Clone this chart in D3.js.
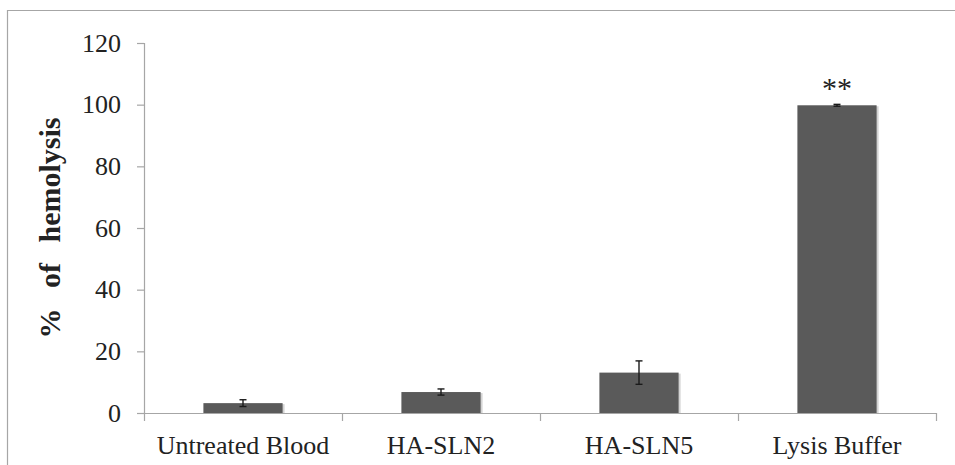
<!DOCTYPE html>
<html>
<head>
<meta charset="utf-8">
<script src="https://cdn.jsdelivr.net/npm/d3@7"></script>
<style>
  html, body { margin: 0; padding: 0; background: #fff; }
  svg { display: block; }
  text { font-family: "Liberation Serif", "Times New Roman", serif; fill: #222; }
</style>
</head>
<body>
<svg id="chart" width="955" height="465"></svg>
<script>
// Hemolysis assay: mean % lysis with standard deviation per sample
const categories = ["Untreated Blood", "HA-SLN2", "HA-SLN5", "Lysis Buffer"];
const values = [3.2, 6.8, 13.1, 99.8];
const errors = [1.1, 1.0, 3.8, 0.3];
const marks = ["", "", "", "**"];
const yTicks = [0, 20, 40, 60, 80, 100, 120];

const svg = d3.select("#chart");
const margin = { left: 144, right: 19, top: 43, bottom: 52 };
const W = 955, H = 465;

// outer frame
svg.append("path")
  .attr("d", `M7.5,${H + 5} V10.5 H${W + 5}`)
  .attr("fill", "none")
  .attr("stroke", "#a6a6a6")
  .attr("stroke-width", 1.2);

const x = d3.scaleBand()
  .domain(categories)
  .range([margin.left, W - margin.right])
  .paddingInner(0.6)
  .paddingOuter(0.3);

const y = d3.scaleLinear()
  .domain([0, 120])
  .range([H - margin.bottom, margin.top]);

// y axis
const yAxis = svg.append("g")
  .attr("transform", `translate(${margin.left},0)`)
  .call(d3.axisLeft(y).tickValues(yTicks).tickSize(7).tickPadding(16));
yAxis.selectAll("path, line").attr("stroke", "#a6a6a6").attr("stroke-width", 1.2);
yAxis.select(".domain").attr("d", `M0.5,${y(120)}V${y(0)}`);
yAxis.selectAll("text")
  .attr("font-size", 26)
  .attr("font-family", "Liberation Serif, serif")
  .attr("fill", "#222");

// x axis with category separator ticks at band boundaries
const step = x.step();
const boundaries = d3.range(categories.length + 1).map(i => margin.left + i * step);
const xg = svg.append("g");
xg.append("line")
  .attr("x1", margin.left).attr("x2", boundaries[boundaries.length - 1])
  .attr("y1", y(0) + 0.5).attr("y2", y(0) + 0.5)
  .attr("stroke", "#a6a6a6").attr("stroke-width", 1.2);
xg.selectAll("line.sep")
  .data(boundaries)
  .join("line")
  .attr("class", "sep")
  .attr("x1", d => d + 0.5).attr("x2", d => d + 0.5)
  .attr("y1", y(0)).attr("y2", y(0) + 8)
  .attr("stroke", "#a6a6a6").attr("stroke-width", 1.2);
xg.selectAll("text")
  .data(categories)
  .join("text")
  .attr("x", d => x(d) + x.bandwidth() / 2)
  .attr("y", y(0) + 41)
  .attr("text-anchor", "middle")
  .attr("font-size", 26)
  .text(d => d);

// bars with a soft drop shadow
const bars = svg.append("g");
bars.selectAll("rect.shadow")
  .data(values)
  .join("rect")
  .attr("class", "shadow")
  .attr("x", (d, i) => x(categories[i]) + 2)
  .attr("y", d => y(d) + 1)
  .attr("width", x.bandwidth())
  .attr("height", d => y(0) - y(d) - 1)
  .attr("fill", "#d4d4d4");
bars.selectAll("rect.bar")
  .data(values)
  .join("rect")
  .attr("class", "bar")
  .attr("x", (d, i) => x(categories[i]))
  .attr("y", d => y(d))
  .attr("width", x.bandwidth())
  .attr("height", d => y(0) - y(d))
  .attr("fill", "#5a5a5a");

// error bars
const err = svg.append("g").attr("stroke", "#1a1a1a").attr("stroke-width", 1.4);
values.forEach((v, i) => {
  const cx = x(categories[i]) + x.bandwidth() / 2;
  const y1 = y(v + errors[i]), y2 = y(v - errors[i]);
  err.append("line").attr("x1", cx).attr("x2", cx).attr("y1", y1).attr("y2", y2);
  err.append("line").attr("x1", cx - 3.5).attr("x2", cx + 3.5).attr("y1", y1).attr("y2", y1);
  err.append("line").attr("x1", cx - 3.5).attr("x2", cx + 3.5).attr("y1", y2).attr("y2", y2);
});

// significance marks
svg.append("g").selectAll("text")
  .data(marks)
  .join("text")
  .attr("x", (d, i) => x(categories[i]) + x.bandwidth() / 2)
  .attr("y", (d, i) => y(values[i] + errors[i]) - 6)
  .attr("text-anchor", "middle")
  .attr("font-size", 30)
  .text(d => d);

// y axis title
svg.append("text")
  .attr("transform", `translate(60,228) rotate(-90)`)
  .attr("text-anchor", "middle")
  .attr("font-size", 30)
  .attr("font-weight", "bold")
  .attr("word-spacing", 13)
  .text("% of hemolysis");
</script>
</body>
</html>
